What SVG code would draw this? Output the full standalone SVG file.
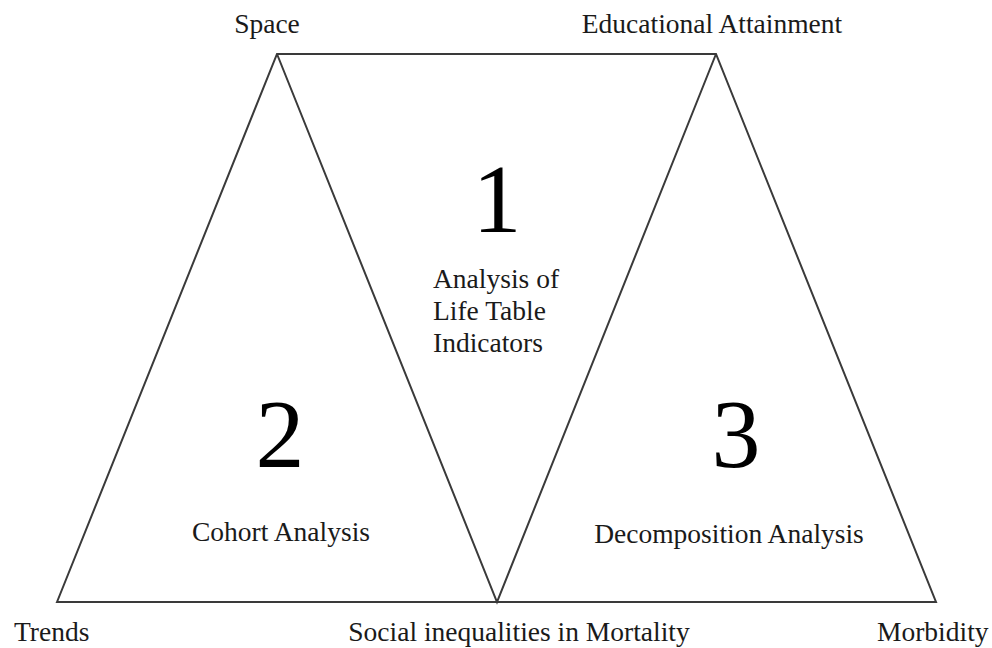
<svg xmlns="http://www.w3.org/2000/svg" width="992" height="648" viewBox="0 0 992 648">
  <style>
    .edge { fill: none; stroke: #3a3a3a; stroke-width: 2; stroke-linejoin: miter; }
    .lbl { font-family: "Liberation Serif", "Times New Roman", serif; font-size: 27.5px; fill: #1a1a1a; }
    .num { font-family: "Liberation Serif", "Times New Roman", serif; font-size: 98px; fill: #000; text-anchor: middle; }
    .mid { text-anchor: middle; }
  </style>
  <rect width="992" height="648" fill="#ffffff"/>

  <!-- outline: two upright triangles joined by an inverted one -->
  <g id="connectors">
    <polygon class="edge" points="57,602 277,54 716,54 936,602"/>
    <polyline class="edge" points="277,54 497,602 716,54"/>
  </g>

  <!-- corner labels -->
  <g id="node-space"><text class="lbl mid" x="267" y="33">Space</text></g>
  <g id="node-education"><text class="lbl mid" x="712" y="33">Educational Attainment</text></g>
  <g id="node-trends"><text class="lbl" x="14" y="641">Trends</text></g>
  <g id="node-mortality"><text class="lbl mid" x="519" y="641">Social inequalities in Mortality</text></g>
  <g id="node-morbidity"><text class="lbl" x="877" y="641">Morbidity</text></g>

  <!-- triangle 1 -->
  <g id="node-1">
    <text class="num" x="497" y="232">1</text>
    <text class="lbl" x="433" y="288">Analysis of</text>
    <text class="lbl" x="433" y="320">Life Table</text>
    <text class="lbl" x="433" y="352">Indicators</text>
  </g>

  <!-- triangle 2 -->
  <g id="node-2">
    <text class="num" x="280" y="467">2</text>
    <text class="lbl mid" x="281" y="541">Cohort Analysis</text>
  </g>

  <!-- triangle 3 -->
  <g id="node-3">
    <text class="num" x="736" y="467">3</text>
    <text class="lbl mid" x="729" y="543">Decomposition Analysis</text>
  </g>
</svg>
